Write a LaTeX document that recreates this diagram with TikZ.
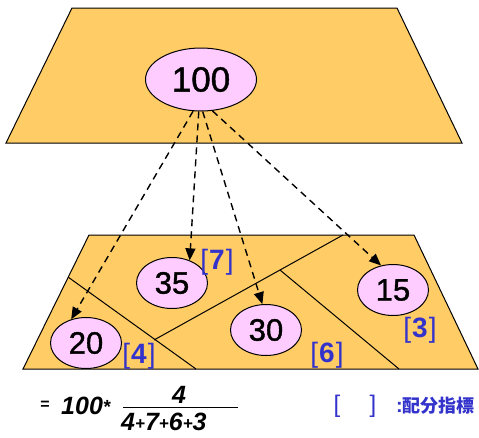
\documentclass[tikz,border=0pt]{standalone}
\usepackage{fontspec}
\setmainfont{Liberation Sans}
\newfontfamily\numfont{Liberation Sans}[RawFeature={embolden=1.2}]
\newfontfamily\cjkfont{Noto Sans CJK JP Bold}
\usetikzlibrary{shapes.geometric,arrows.meta}
\definecolor{plate}{RGB}{255,204,102}
\definecolor{bubble}{RGB}{255,204,255}
\definecolor{idx}{RGB}{51,51,204}
\tikzset{
  platestyle/.style={draw=black, fill=plate, line width=1pt, line join=miter},
  cutline/.style={draw=black, line width=1pt},
  bub/.style={ellipse, draw=black, fill=bubble, line width=1pt, inner sep=0pt,
    minimum width=71pt, minimum height=51pt, font=\numfont\fontsize{31}{31}\selectfont},
  bigbub/.style={bub, minimum width=111pt, minimum height=63pt, font=\numfont\fontsize{35}{35}\selectfont},
  idxlabel/.style={text=idx, inner sep=0pt, font=\fontsize{28}{28}\selectfont},
  dasharrow/.style={draw=black, line width=1.4pt, dash pattern=on 7pt off 5pt,
    -{Triangle[length=12pt,width=10pt]}},
  formula/.style={inner sep=0pt, font=\fontsize{25}{25}\selectfont\bfseries\itshape}
}
\begin{document}
\begin{tikzpicture}[x=1pt,y=-1pt]
\useasboundingbox (0,0) rectangle (479,437);
% top plate
\path[platestyle] (72,8) -- (397,8) -- (462,143) -- (6,143) -- cycle;
% bottom plate
\path[platestyle] (89,235) -- (414,235) -- (478,369) -- (23,369) -- cycle;
\coordinate (a1) at (68,277);
\coordinate (a2) at (196,369);
\coordinate (b1) at (154,340);
\coordinate (b2) at (343,235);
\coordinate (c1) at (280,270);
\coordinate (c2) at (399,369);
\draw[cutline] (a1) -- (a2);
\draw[cutline] (b1) -- (b2);
\draw[cutline] (c1) -- (c2);
% bubbles
\node[bigbub] (c100) at (201,79.5) {100};
\node[bub] (c35) at (172,283) {35};
\node[bub] (c15) at (393,290) {15};
\node[bub] (c30) at (266,330) {30};
\node[bub] (c20) at (86,343) {20};
% arrows
\draw[dasharrow] (c100.256) -- (c20.122);
\draw[dasharrow] (c100.266) -- (c35.52);
\draw[dasharrow] (c100.273) -- (c30.98);
\draw[dasharrow] (c100.290) -- (c15.116);
% index labels
\node[idxlabel] (l7) at (217,262) {[\kern1pt\textbf{7}\kern1pt]};
\node[idxlabel] (l3) at (420,330) {[\kern1pt\textbf{3}\kern1pt]};
\node[idxlabel] (l4) at (139,356) {[\kern1pt\textbf{4}\kern1pt]};
\node[idxlabel] (l6) at (327,355) {[\kern1pt\textbf{6}\kern1pt]};
% formula
\node[inner sep=0pt, font=\fontsize{16}{16}\selectfont\bfseries] (eq) at (45,405) {=};
\node[formula, anchor=west] (f100) at (61,406) {100\raisebox{1pt}{\fontsize{19}{19}\selectfont *}};
\node[formula] (num) at (179,395) {4};
\coordinate (bar1) at (123,407);
\coordinate (bar2) at (238,407);
\draw[line width=1pt] (bar1) -- (bar2);
\node[formula, anchor=west] (den) at (121,422)
  {4\raisebox{1pt}{\fontsize{17}{17}\selectfont +}7\raisebox{1pt}{\fontsize{17}{17}\selectfont +}6\raisebox{1pt}{\fontsize{17}{17}\selectfont +}3};
% legend
\node[text=idx, inner sep=0pt, font=\fontsize{24}{24}\selectfont] (lb) at (337,406) {[};
\node[text=idx, inner sep=0pt, font=\fontsize{24}{24}\selectfont] (rb) at (373,406) {]};
\node[text=idx, inner sep=0pt, anchor=west, font=\fontsize{20}{20}\selectfont\bfseries] (leg) at (396,406)
  {:{\cjkfont\fontsize{18}{18}\selectfont 配分指標}};
\end{tikzpicture}
\end{document}
